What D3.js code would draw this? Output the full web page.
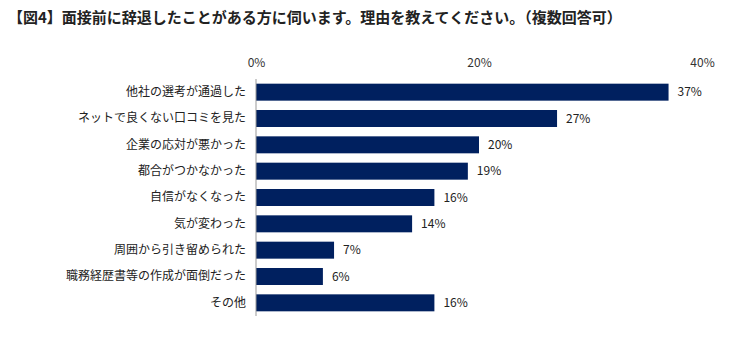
<!DOCTYPE html>
<html><head><meta charset="utf-8">
<script src="https://cdn.jsdelivr.net/npm/d3@7"></script>
<style>body{margin:0;background:#fff;} text{font-family:"Noto Sans CJK JP","Noto Sans",sans-serif;}</style>
</head><body>
<svg id="c" width="752" height="347"></svg>
<script>
const titleText = "【図4】面接前に辞退したことがある方に伺います。理由を教えてください。（複数回答可）";
const categories = ["他社の選考が通過した","ネットで良くない口コミを見た","企業の応対が悪かった","都合がつかなかった","自信がなくなった","気が変わった","周囲から引き留められた","職務経歴書等の作成が面倒だった","その他"];
const values = [37,27,20,19,16,14,7,6,16];
const tickValues = [0,20,40];

const svg = d3.select("#c");
svg.append("text").attr("x",8).attr("y",23).attr("font-size",15).attr("font-weight","bold").attr("fill","#222").text(titleText);

const x = d3.scaleLinear().domain([0,40]).range([256,702]);
const y = d3.scaleBand().domain(categories).range([79,316]).paddingInner(0.355).paddingOuter(0.1775);

// top tick labels
const xAxis = d3.axisTop(x).tickValues(tickValues).tickFormat(d=>d+"%").tickSize(0).tickPadding(0);
const gx = svg.append("g").attr("transform","translate(0,67)").call(xAxis);
gx.select(".domain").remove();
gx.selectAll("text").attr("font-size",12).attr("fill","#333").attr("font-family","'Noto Sans CJK JP',sans-serif");

// bars
svg.append("g").selectAll("rect").data(values).join("rect")
  .attr("x",x(0)).attr("y",(d,i)=>y(categories[i]))
  .attr("width",d=>x(d)-x(0)).attr("height",y.bandwidth()).attr("fill","#00205f");

// left axis
const yAxis = d3.axisLeft(y).tickSize(0).tickPadding(10);
const gy = svg.append("g").attr("transform",`translate(${x(0)},0)`).call(yAxis);
gy.select(".domain").attr("stroke","#999").attr("d",`M0,79V316`);
gy.selectAll("text").attr("font-size",12).attr("fill","#222").attr("font-family","'Noto Sans CJK JP',sans-serif");

// value labels
svg.append("g").selectAll("text").data(values).join("text")
  .attr("x",d=>x(d)+9).attr("y",(d,i)=>y(categories[i])+y.bandwidth()/2)
  .attr("dy","0.35em").attr("font-size",12).attr("fill","#222").text(d=>d+"%");
</script>
</body></html>
